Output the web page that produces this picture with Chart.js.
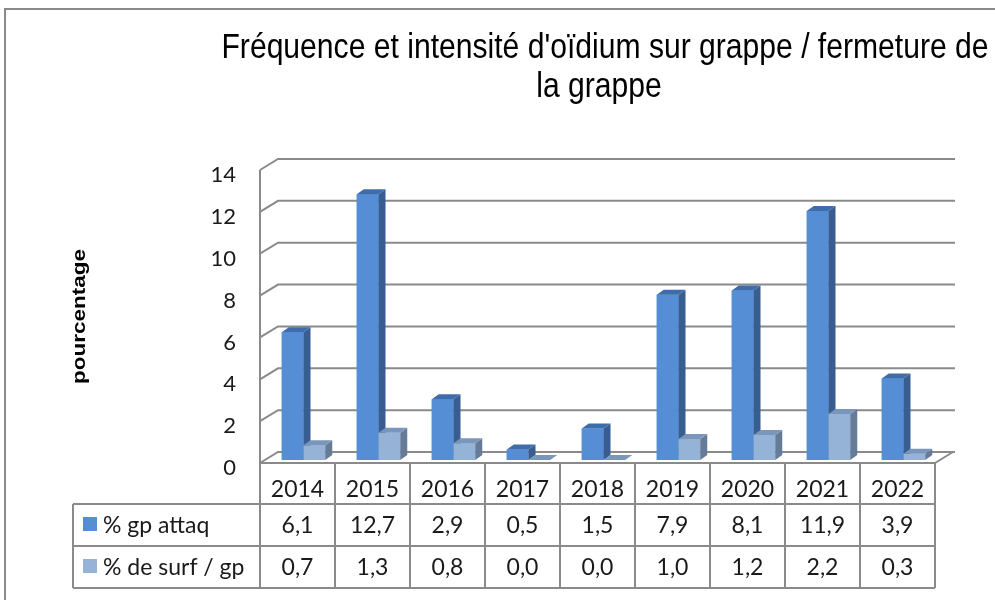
<!DOCTYPE html>
<html>
<head>
<meta charset="utf-8">
<script src="https://cdn.jsdelivr.net/npm/chart.js@4.4.0/dist/chart.umd.min.js"></script>
<style>
  body { margin: 0; background: #fff; }
  canvas { display: block; }
</style>
</head>
<body>
<canvas id="grafico" width="995" height="600"></canvas>
<script>
// données
var annees = ['2014', '2015', '2016', '2017', '2018', '2019', '2020', '2021', '2022'];
var gpAttaq = [6.1, 12.7, 2.9, 0.5, 1.5, 7.9, 8.1, 11.9, 3.9];
var surfGp = [0.7, 1.3, 0.8, 0.0, 0.0, 1.0, 1.2, 2.2, 0.3];
var series = ['% gp attaq', '% de surf / gp'];
var titre = ["Fréquence et intensité d'oïdium sur grappe / fermeture de", 'la grappe'];
var titreAxeY = 'pourcentage';
var axeY = { min: 0, max: 14, pas: 2 };

// styles
var couleurs = [
  { face: '#558ed5', cote: '#375d91', dessus: '#3f6cab' },
  { face: '#95b3d7', cote: '#667b97', dessus: '#7b96bb' }
];
var gris = '#8a8a8a';
var police = 'Lato, "Open Sans", sans-serif';
var decalage = 6;            // décalage du sol / tableau par rapport aux barres
var mur = { dx: 18, dy: 11 }; // profondeur du mur du fond
var barre = { dx: 7, dy: 5 }; // profondeur des barres
var lignes = [463, 504, 546, 588];
var etirement = 0.86;         // le visuel d'origine est étiré verticalement

function fmt(v) { return v.toFixed(1).replace('.', ','); }

var effet3d = {
  id: 'effet3d',
  beforeDraw: function (chart) {
    var ctx = chart.ctx, a = chart.chartArea;
    ctx.save();
    ctx.strokeStyle = gris;
    ctx.lineWidth = 2;
    ctx.strokeRect(5, 9, 1200, 700);
    ctx.fillStyle = '#000';
    ctx.textAlign = 'center';
    ctx.textBaseline = 'alphabetic';
    // titre du graphique
    ctx.font = '35px "Liberation Sans", Arial, sans-serif';
    ctx.save();
    ctx.translate(605, 58);
    ctx.scale(etirement, 1);
    ctx.fillText(titre[0], 0, 0);
    ctx.restore();
    ctx.save();
    ctx.translate(599, 97);
    ctx.scale(etirement, 1);
    ctx.fillText(titre[1], 0, 0);
    ctx.restore();
    // titre de l'axe vertical
    ctx.save();
    ctx.font = 'bold 18px "Liberation Sans", Arial, sans-serif';
    ctx.textBaseline = 'middle';
    ctx.translate(80, (a.top + a.bottom) / 2 + 3);
    ctx.rotate(-Math.PI / 2);
    ctx.scale(1.25, 1);
    ctx.fillText(titreAxeY, 0, 0);
    ctx.restore();
    ctx.restore();
  },
  beforeDatasetsDraw: function (chart) {
    var ctx = chart.ctx, a = chart.chartArea, y = chart.scales.y;
    var xF = a.left - decalage, xB = xF + mur.dx;
    var xFin = a.right - decalage + mur.dx + 2;
    ctx.save();
    ctx.strokeStyle = gris;
    ctx.lineWidth = 2;
    ctx.beginPath();
    y.ticks.forEach(function (t) {
      var yF = y.getPixelForValue(t.value) + 3;
      ctx.moveTo(xF, yF);
      ctx.lineTo(xB, yF - mur.dy);
      ctx.lineTo(xFin, yF - mur.dy);
    });
    var y0 = y.getPixelForValue(axeY.min) + 3;
    var yMax = y.getPixelForValue(axeY.max) + 3;
    ctx.moveTo(xF, yMax);
    ctx.lineTo(xF, y0);
    var xD = a.right - decalage;
    ctx.moveTo(xD, y0);
    ctx.lineTo(xD + mur.dx, y0 - mur.dy);
    ctx.stroke();
    ctx.restore();
  },
  afterDatasetsDraw: function (chart) {
    var ctx = chart.ctx, x = chart.scales.x;
    ctx.save();
    // barres en 3D, dans l'ordre des séries
    chart.data.datasets.forEach(function (ds, d) {
      var c = couleurs[d];
      chart.getDatasetMeta(d).data.forEach(function (el) {
        var w = el.width, x1 = el.x - w / 2, x2 = el.x + w / 2, top = el.y, base = el.base;
        ctx.fillStyle = c.face;
        ctx.fillRect(x1, top, w, base - top);
        ctx.fillStyle = c.cote;
        ctx.beginPath();
        ctx.moveTo(x2, top); ctx.lineTo(x2 + barre.dx, top - barre.dy);
        ctx.lineTo(x2 + barre.dx, base - barre.dy); ctx.lineTo(x2, base);
        ctx.closePath(); ctx.fill();
        ctx.fillStyle = c.dessus;
        ctx.beginPath();
        ctx.moveTo(x1, top); ctx.lineTo(x1 + barre.dx, top - barre.dy);
        ctx.lineTo(x2 + barre.dx, top - barre.dy); ctx.lineTo(x2, top);
        ctx.closePath(); ctx.fill();
      });
    });

    // tableau de données
    var colW = x.getPixelForValue(1) - x.getPixelForValue(0);
    var gauche = x.getPixelForValue(0) - colW / 2 - decalage;
    var droite = x.getPixelForValue(annees.length - 1) + colW / 2 - decalage;
    var legG = 73;
    ctx.strokeStyle = gris;
    ctx.lineWidth = 2;
    ctx.beginPath();
    ctx.moveTo(gauche, lignes[0]); ctx.lineTo(droite, lignes[0]);
    for (var r = 1; r < lignes.length; r++) {
      ctx.moveTo(legG, lignes[r]); ctx.lineTo(droite, lignes[r]);
    }
    ctx.moveTo(legG, lignes[1]); ctx.lineTo(legG, lignes[3]);
    for (var i = 0; i <= annees.length; i++) {
      var xc = gauche + i * colW;
      ctx.moveTo(xc, lignes[0]); ctx.lineTo(xc, lignes[3]);
    }
    ctx.stroke();

    ctx.font = '23px ' + police;
    ctx.fillStyle = '#1a1a1a';
    ctx.textBaseline = 'alphabetic';
    var bases = [497, 533, 575];
    var lignesVal = [gpAttaq, surfGp];
    ctx.textAlign = 'center';
    annees.forEach(function (an, i) {
      var cx = x.getPixelForValue(i) - decalage;
      ctx.fillText(an, cx, bases[0]);
      ctx.fillText(fmt(lignesVal[0][i]), cx, bases[1]);
      ctx.fillText(fmt(lignesVal[1][i]), cx, bases[2]);
    });
    ctx.textAlign = 'left';
    series.forEach(function (s, k) {
      ctx.fillStyle = couleurs[k].face;
      ctx.fillRect(83, bases[k + 1] - 16, 14, 14);
      ctx.fillStyle = '#1a1a1a';
      ctx.fillText(s, 103, bases[k + 1]);
    });
    ctx.restore();
  }
};

var contexto = document.getElementById('grafico').getContext('2d');
var myChart = new Chart(contexto, {
  type: 'bar',
  data: {
    labels: annees,
    datasets: [{
      label: series[0],
      data: gpAttaq,
      backgroundColor: couleurs[0].face,
      borderWidth: 0
    }, {
      label: series[1],
      data: surfGp,
      backgroundColor: couleurs[1].face,
      borderWidth: 0
    }]
  },
  options: {
    responsive: false,
    devicePixelRatio: 1,
    animation: false,
    datasets: { bar: { categoryPercentage: 0.58, barPercentage: 1 } },
    layout: { padding: { left: 60, right: 54, top: 167, bottom: 140 } },
    plugins: {
      legend: { display: false },
      title: { display: false },
      tooltip: { enabled: false }
    },
    scales: {
      x: { display: false },
      y: {
        min: axeY.min,
        max: axeY.max,
        afterFit: function (scale) { scale.width = 206; },
        ticks: {
          stepSize: axeY.pas,
          padding: 30,
          labelOffset: 8,
          color: '#1a1a1a',
          font: { family: police, size: 22 }
        },
        grid: { display: false, drawTicks: false },
        border: { display: false }
      }
    }
  },
  plugins: [effet3d]
});
</script>
</body>
</html>
